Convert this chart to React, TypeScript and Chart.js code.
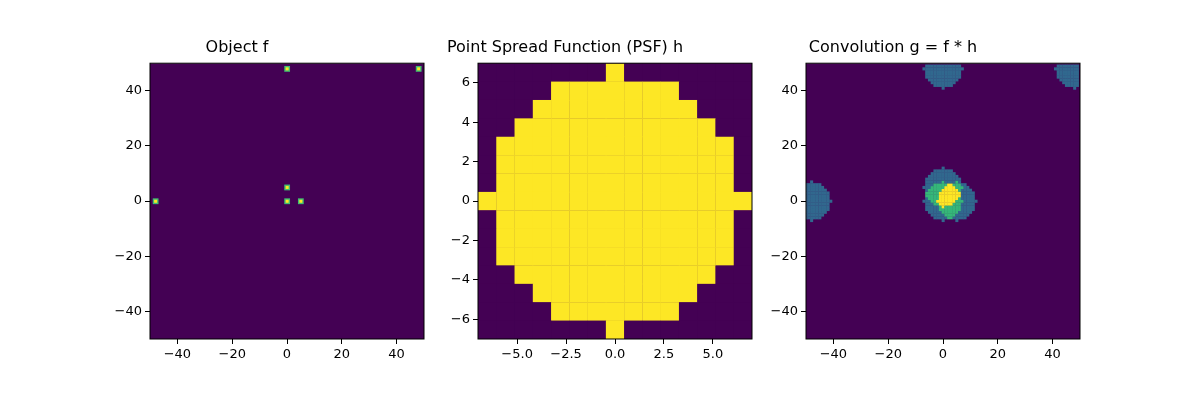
import React, { useRef, useEffect } from "react";
import { Chart, registerables } from "chart.js";

Chart.register(...registerables);

// object points (x, y)
const objectX = [0, 5, 0, 48, -48, 0];
const objectY = [0, 0, 5, 48, 0, 48];

// PSF: half-width of the disk for each row, top row (dy = 7) to bottom (dy = -7)
const psfHalfWidths = [0, 3, 4, 5, 6, 6, 6, 7, 6, 6, 6, 5, 4, 3, 0];

const bigTicks = [-40, -20, 0, 20, 40];
const psfXTicks = [-5, -2.5, 0, 2.5, 5];
const psfYTicks = [-6, -4, -2, 0, 2, 4, 6];

const viridis = ["#440154", "#31688e", "#35b779", "#fde725"];

type Cell = { x0: number; x1: number; y0: number; y1: number; color: string };

function fmt(v: number, dec: number) {
  return v.toFixed(dec).replace("-", "\u2212");
}

function objectCells(): Cell[] {
  const cells: Cell[] = [];
  objectX.forEach((x, i) => {
    const y = objectY[i];
    cells.push({ x0: x - 1, x1: x + 1, y0: y - 1, y1: y + 1, color: "#3fbc73" });
    cells.push({ x0: x - 0.5, x1: x + 0.5, y0: y - 0.5, y1: y + 0.5, color: "#fde725" });
  });
  return cells;
}

function psfCells(): Cell[] {
  const cells: Cell[] = [];
  const n = psfHalfWidths.length;
  const w = 14 / n;
  psfHalfWidths.forEach((hw, r) => {
    for (let c = 0; c < n; c++) {
      const on = Math.abs(c - 7) <= hw;
      cells.push({
        x0: -7 + c * w, x1: -7 + (c + 1) * w,
        y0: 7 - (r + 1) * w, y1: 7 - r * w,
        color: on ? "#fde725" : "#440154",
      });
    }
  });
  return cells;
}

function convCells(): Cell[] {
  const cells: Cell[] = [];
  const counts: number[][] = [];
  let max = 0;
  for (let y = -50; y < 50; y++) {
    const row: number[] = [];
    for (let x = -50; x < 50; x++) {
      let v = 0;
      objectX.forEach((px, i) => {
        const dy = y - objectY[i];
        if (dy < -7 || dy > 7) return;
        if (Math.abs(x - px) <= psfHalfWidths[7 - dy]) v++;
      });
      max = Math.max(max, v);
      row.push(v);
    }
    counts.push(row);
  }
  counts.forEach((row, j) =>
    row.forEach((v, i) => {
      if (v === 0) return;
      const x = i - 50, y = j - 50;
      cells.push({
        x0: x - 0.5, x1: x + 0.5, y0: y - 0.5, y1: y + 0.5,
        color: viridis[Math.round((v / max) * 3)],
      });
    })
  );
  return cells;
}

const cellPlugin = {
  id: "cells",
  beforeDatasetsDraw(chart: any, _a: any, opts: any) {
    const { ctx, chartArea: a, scales } = chart;
    ctx.save();
    ctx.beginPath();
    ctx.rect(a.left, a.top, a.right - a.left, a.bottom - a.top);
    ctx.clip();
    ctx.fillStyle = "#440154";
    ctx.fillRect(a.left, a.top, a.right - a.left, a.bottom - a.top);
    (opts.cells as Cell[]).forEach((c) => {
      const x0 = scales.x.getPixelForValue(c.x0);
      const x1 = scales.x.getPixelForValue(c.x1);
      const y0 = scales.y.getPixelForValue(c.y1);
      const y1 = scales.y.getPixelForValue(c.y0);
      ctx.fillStyle = c.color;
      ctx.fillRect(x0, y0, x1 - x0 + 0.3, y1 - y0 + 0.3);
    });
    ctx.restore();
    ctx.strokeStyle = "#000";
    ctx.lineWidth = 1;
    ctx.strokeRect(a.left, a.top, a.right - a.left, a.bottom - a.top);
  },
};

function Panel(props: {
  left: number; title: string; lim: number; xTicks: number[]; yTicks: number[];
  xDec: number; cells: Cell[];
}) {
  const ref = useRef<HTMLCanvasElement>(null);
  useEffect(() => {
    const axis = (ticks: number[], dec: number, isY: boolean) => ({
      type: "linear" as const,
      min: -props.lim,
      max: props.lim,
      afterBuildTicks: (s: any) => { s.ticks = ticks.map((v) => ({ value: v })); },
      afterFit: (s: any) => { if (isY) s.width = 100; else s.height = 61; },
      grid: { drawOnChartArea: false, drawTicks: true, tickLength: 5, color: "#000" },
      border: { display: false },
      ticks: {
        color: "#000",
        font: { family: "DejaVu Sans", size: 13 },
        padding: 3,
        maxRotation: 0,
        autoSkip: false,
        callback: (v: any) => fmt(Number(v), dec),
      },
    });
    const chart = new Chart(ref.current!, {
      type: "scatter",
      data: { datasets: [{ data: [] }] },
      options: {
        responsive: false,
        animation: false,
        layout: { padding: { top: 0, right: 26, left: 0, bottom: 0 } },
        scales: {
          x: axis(props.xTicks, props.xDec, false),
          y: axis(props.yTicks, 0, true),
        },
        plugins: {
          legend: { display: false },
          tooltip: { enabled: false },
          title: {
            display: true,
            text: props.title,
            color: "#000",
            font: { family: "DejaVu Sans", size: 16, weight: "normal" },
            padding: { top: 38, bottom: 6 },
          },
          cells: { cells: props.cells },
        } as any,
      },
      plugins: [cellPlugin],
    });
    return () => chart.destroy();
  }, []);
  return (
    <canvas
      ref={ref}
      width={400}
      height={400}
      style={{ position: "absolute", left: props.left - 100, top: 0 }}
    />
  );
}

export default function App() {
  return (
    <div style={{ position: "fixed", left: 0, top: 0, width: 1200, height: 400, background: "#fff" }}>
      <Panel left={150} title="Object f" lim={50} xTicks={bigTicks} yTicks={bigTicks} xDec={0} cells={objectCells()} />
      <Panel left={478} title="Point Spread Function (PSF) h" lim={7} xTicks={psfXTicks} yTicks={psfYTicks} xDec={1} cells={psfCells()} />
      <Panel left={806} title="Convolution g = f * h" lim={50} xTicks={bigTicks} yTicks={bigTicks} xDec={0} cells={convCells()} />
    </div>
  );
}
